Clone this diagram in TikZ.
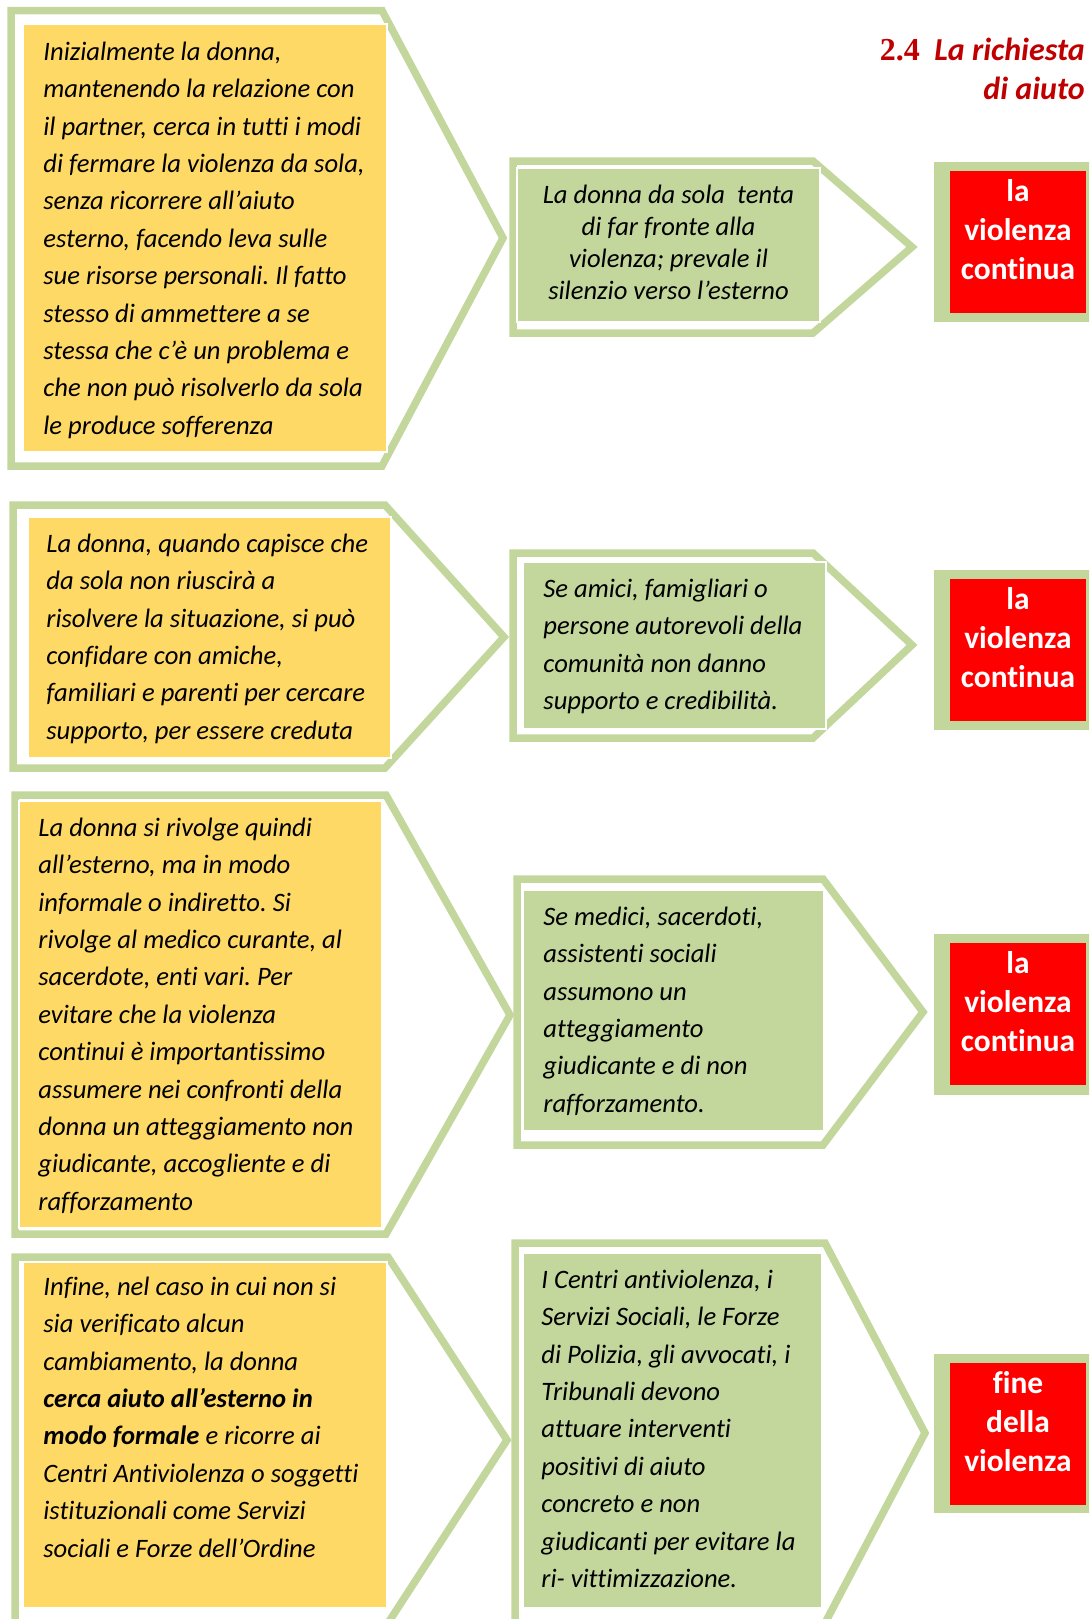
\documentclass[tikz,border=0pt]{standalone}
\usepackage{fontspec}
\setmainfont{Carlito}[Ligatures=NoCommon]
\newfontfamily\numfont{Liberation Serif}
\usetikzlibrary{positioning}
\definecolor{framegreen}{HTML}{C3D69B}
\definecolor{boxyellow}{HTML}{FFD966}
\definecolor{titlered}{HTML}{C00000}
\frenchspacing

\begin{document}
\begin{tikzpicture}[
    x=0.5pt, y=-0.5pt,
    frame/.style={
        draw=framegreen,
        line width=3.75pt,
        line join=miter
    },
    yellowbox/.style={fill=boxyellow, draw=white, line width=0.8pt},
    greenbox/.style={fill=framegreen, draw=white, line width=0.8pt},
    endbox/.style={
        fill=red,
        minimum width=68pt,
        minimum height=71pt,
        inner sep=0pt
    },
    body/.style={
        anchor=north west,
        inner sep=0pt,
        align=left,
        font=\fontsize{13.3pt}{18.7pt}\selectfont\itshape
    },
    endtext/.style={
        anchor=north,
        inner sep=0pt,
        align=center,
        text=white,
        font=\fontsize{15.7pt}{19.5pt}\selectfont\bfseries
    }
]
\useasboundingbox (0,0) rectangle (1089,1619);
\clip (0,0) rectangle (1089,1619);

\node[anchor=north east, inner sep=0pt, align=right, text=titlered,
      font=\fontsize{16pt}{19.5pt}\selectfont\bfseries] (title) at (1085,32.7)
     {\strut{\numfont 2.4}\ \ \textit{La richiesta}\\\textit{di aiuto}};

\draw[frame] (11,10.5) -- (382,10.5) -- (503,238) -- (382,466) -- (11,466) -- cycle;
\draw[frame] (513,161) -- (813,161) -- (912,247) -- (813,333) -- (513,333) -- cycle;
\draw[frame] (13,505) -- (385,505) -- (504,637) -- (385,768) -- (13,768) -- cycle;
\draw[frame] (513,553) -- (813,553) -- (912,645) -- (813,738) -- (513,738) -- cycle;
\draw[frame] (15,795) -- (386,795) -- (510,1015) -- (386,1234) -- (15,1234) -- cycle;
\draw[frame] (517,879) -- (823,879) -- (923,1012) -- (823,1145) -- (517,1145) -- cycle;
\draw[frame] (15,1257) -- (388,1257) -- (507,1440) -- (388,1623) -- (15,1623) -- cycle;
\draw[frame] (515,1243) -- (825,1243) -- (925,1433) -- (825,1623) -- (515,1623) -- cycle;

\filldraw[yellowbox] (23,24) rectangle (387,452);
\filldraw[greenbox] (517,168) rectangle (820,322);
\filldraw[yellowbox] (28,517) rectangle (391,758);
\filldraw[greenbox] (523,562) rectangle (826,729);
\filldraw[yellowbox] (19,801) rectangle (382,1228);
\filldraw[greenbox] (523,890) rectangle (824,1131);
\filldraw[yellowbox] (23,1262) rectangle (387,1608);
\filldraw[greenbox] (523,1253) rectangle (822,1608);

\node[body] (step1) at (43,33.75) {\strut Inizialmente la donna,\\
mantenendo la relazione con\\
il partner, cerca in tutti i modi\\
di fermare la violenza da sola,\\
senza ricorrere all’aiuto\\
esterno, facendo leva sulle\\
sue risorse personali. Il fatto\\
stesso di ammettere a se\\
stessa che c’è un problema e\\
che non può risolverlo da sola\\
le produce sofferenza};
\node[body, anchor=north, align=center,
      font=\fontsize{13.3pt}{16pt}\selectfont\itshape] (resp1) at (668.5,180.6)
     {\strut La donna da sola \ tenta\\
di far fronte alla\\
violenza; prevale il\\
silenzio verso l’esterno};

\node[body] (step2) at (46,525.75) {\strut La donna, quando capisce che\\
da sola non riuscirà a\\
risolvere la situazione, si può\\
confidare con amiche,\\
familiari e parenti per cercare\\
supporto, per essere creduta};
\node[body] (resp2) at (543,570.75) {\strut Se amici, famigliari o\\
persone autorevoli della\\
comunità non danno\\
supporto e credibilità.};

\node[body] (step3) at (38,809.75) {\strut La donna si rivolge quindi\\
all’esterno, ma in modo\\
informale o indiretto. Si\\
rivolge al medico curante, al\\
sacerdote, enti vari. Per\\
evitare che la violenza\\
continui è importantissimo\\
assumere nei confronti della\\
donna un atteggiamento non\\
giudicante, accogliente e di\\
rafforzamento};
\node[body] (resp3) at (543,898.75) {\strut Se medici, sacerdoti,\\
assistenti sociali\\
assumono un\\
atteggiamento\\
giudicante e di non\\
rafforzamento.};

\node[body] (step4) at (43,1268.75) {\strut Infine, nel caso in cui non si\\
sia verificato alcun\\
cambiamento, la donna\\
\textbf{cerca aiuto all’esterno in}\\
\textbf{modo formale} e ricorre ai\\
Centri Antiviolenza o soggetti\\
istituzionali come Servizi\\
sociali e Forze dell’Ordine};
\node[body] (resp4) at (541,1261.75) {\strut I Centri antiviolenza, i\\
Servizi Sociali, le Forze\\
di Polizia, gli avvocati, i\\
Tribunali devono\\
attuare interventi\\
positivi di aiuto\\
concreto e non\\
giudicanti per evitare la\\
ri- vittimizzazione.};

\fill[framegreen] (934,162) rectangle (1095,322);
\fill[framegreen] (934,570) rectangle (1095,730);
\fill[framegreen] (934,934) rectangle (1095,1095);
\fill[framegreen] (934,1354) rectangle (1095,1513);

\node[endbox] (end1) at (1018,241.5) {};
\node[endbox] (end2) at (1018,649.5) {};
\node[endbox] (end3) at (1018,1014) {};
\node[endbox] (end4) at (1018,1433.5) {};

\node[endtext, below=1.6pt of end1.north] (out1) {\strut la\\violenza\\continua};
\node[endtext, below=1.6pt of end2.north] (out2) {\strut la\\violenza\\continua};
\node[endtext, below=1.6pt of end3.north] (out3) {\strut la\\violenza\\continua};
\node[endtext, below=1.6pt of end4.north] (out4) {\strut fine\\della\\violenza};
\end{tikzpicture}
\end{document}
